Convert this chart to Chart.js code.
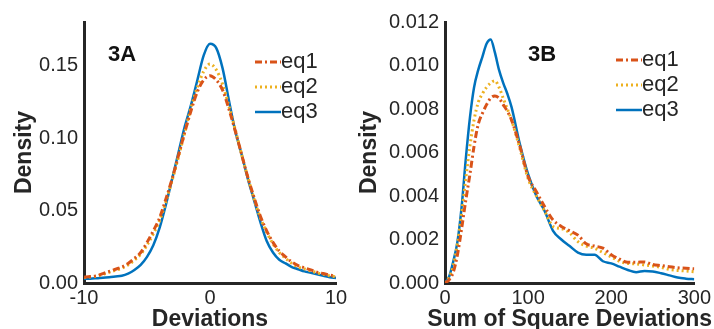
<!DOCTYPE html>
<html>
<head>
<meta charset="utf-8">
<script src="https://cdn.jsdelivr.net/npm/chart.js@4.4.1/dist/chart.umd.min.js"></script>
<style>
  body { margin: 0; background: #fff; }
  .panel { position: absolute; top: 0; width: 357px; height: 329px; }
  #panelA { left: 0; }
  #panelB { left: 357px; }
</style>
</head>
<body>
<div class="panel" id="panelA"><canvas id="chartA"></canvas></div>
<div class="panel" id="panelB"><canvas id="chartB"></canvas></div>
<script>
  // 3A: densidad de las desviaciones
  const devX = [-10, -9.5, -9, -8.5, -8, -7.5, -7, -6.5, -6, -5.5, -5, -4.5, -4, -3.5, -3, -2.5, -2, -1.5, -1, -0.5,
    0, 0.5, 1, 1.5, 2, 2.5, 3, 3.5, 4, 4.5, 5, 5.5, 6, 6.5, 7, 7.5, 8, 8.5, 9, 9.5, 10];
  const devEq1 = [0.004, 0.0045, 0.005, 0.0065, 0.008, 0.0095, 0.011, 0.0135, 0.017, 0.021, 0.028, 0.036, 0.045, 0.058, 0.072, 0.088, 0.104, 0.119, 0.132, 0.140,
    0.143, 0.140, 0.133, 0.120, 0.105, 0.089, 0.073, 0.059, 0.046, 0.036, 0.028, 0.022, 0.018, 0.0145, 0.012, 0.0105, 0.009, 0.0075, 0.0065, 0.0055, 0.0045];
  const devEq2 = [0.0038, 0.0042, 0.0047, 0.006, 0.0074, 0.0088, 0.0102, 0.0125, 0.0158, 0.0198, 0.026, 0.034, 0.043, 0.056, 0.071, 0.087, 0.104, 0.121, 0.135, 0.146,
    0.151, 0.147, 0.137, 0.122, 0.106, 0.089, 0.073, 0.058, 0.045, 0.035, 0.027, 0.021, 0.017, 0.0135, 0.011, 0.0097, 0.0084, 0.007, 0.006, 0.005, 0.0042];
  const devEq3 = [0.003, 0.003, 0.0033, 0.0037, 0.004, 0.0045, 0.005, 0.0065, 0.009, 0.0125, 0.018, 0.026, 0.038, 0.054, 0.072, 0.090, 0.108, 0.123, 0.140, 0.157,
    0.165, 0.162, 0.148, 0.126, 0.105, 0.089, 0.072, 0.057, 0.042, 0.029, 0.021, 0.016, 0.0135, 0.011, 0.0095, 0.008, 0.007, 0.006, 0.005, 0.004, 0.0035];
  const devXTicks = [-10, 0, 10];
  const devYTicks = [0, 0.05, 0.10, 0.15];

  // 3B: densidad de la suma de desviaciones cuadradas
  const ssdX = [0, 5, 10, 15, 20, 25, 30, 35, 40, 45, 50, 55, 60, 65, 70, 75, 80, 90, 100, 110, 120, 130, 140, 150,
    160, 170, 180, 190, 200, 210, 220, 230, 240, 250, 260, 270, 280, 290, 300];
  const ssdEq1 = [0, 0.00015, 0.0005, 0.0013, 0.0025, 0.0038, 0.0050, 0.0063, 0.0073, 0.0078, 0.0082, 0.0085, 0.0086, 0.0085, 0.0082, 0.0079, 0.0075, 0.0063, 0.0049, 0.0042, 0.0035, 0.0029, 0.0026, 0.0024,
    0.0022, 0.0018, 0.0017, 0.0016, 0.0013, 0.0011, 0.00095, 0.00095, 0.00097, 0.00085, 0.0008, 0.00075, 0.0007, 0.00068, 0.00065];
  const ssdEq2 = [0, 0.00025, 0.0008, 0.0018, 0.0032, 0.0048, 0.0063, 0.0075, 0.0083, 0.0087, 0.0090, 0.0092, 0.0093, 0.0090, 0.0085, 0.0080, 0.0075, 0.0062, 0.0048, 0.0040, 0.0033, 0.0026, 0.0025, 0.0023,
    0.0019, 0.0017, 0.0016, 0.0014, 0.0012, 0.0010, 0.0009, 0.00088, 0.00083, 0.00078, 0.00072, 0.00062, 0.00058, 0.00055, 0.00052];
  const ssdEq3 = [0, 0.0003, 0.0010, 0.0019, 0.0035, 0.0057, 0.0076, 0.0090, 0.0098, 0.0104, 0.0110, 0.0112, 0.0106, 0.0098, 0.0092, 0.0087, 0.0081, 0.0064, 0.0050, 0.0040, 0.0033, 0.0024, 0.0020, 0.0017,
    0.0014, 0.0013, 0.0013, 0.0010, 0.0009, 0.00075, 0.0006, 0.0005, 0.00055, 0.00053, 0.00045, 0.00035, 0.00025, 0.0002, 0.00017];
  const ssdXTicks = [0, 100, 200, 300];
  const ssdYTicks = [0, 0.002, 0.004, 0.006, 0.008, 0.010, 0.012];

  const seriesNames = ['eq1', 'eq2', 'eq3'];
  const seriesColors = ['#D95319', '#EDB120', '#0072BD'];
  const seriesDash = [[7, 3, 2, 3], [2, 3], []];

  const fontFamily = "'Liberation Sans', Arial, Helvetica, sans-serif";
  const ink = '#262626';

  function makeDatasets(xs, ys) {
    return ys.map((serie, i) => ({
      label: seriesNames[i],
      data: xs.map((x, j) => ({ x: x, y: serie[j] })),
      borderColor: seriesColors[i],
      borderDash: seriesDash[i],
      borderWidth: i === 2 ? 2.5 : 3,
      pointRadius: 0,
      fill: false,
      cubicInterpolationMode: 'monotone'
    }));
  }

  // leyenda, etiqueta del panel y titulo del eje x (el titulo de Chart.js se comprime)
  function panelPlugin(tag, tagX, legX, legY, xTitle) {
    return {
      id: 'panel' + tag,
      afterDraw(chart) {
        const ctx = chart.ctx;
        const area = chart.chartArea;
        ctx.save();
        ctx.fillStyle = '#111';
        ctx.font = 'bold 22px ' + fontFamily;
        ctx.textAlign = 'left';
        ctx.textBaseline = 'middle';
        ctx.fillText(tag, tagX, 55);
        ctx.font = '22px ' + fontFamily;
        seriesNames.forEach((name, i) => {
          const y = legY + i * 25;
          ctx.strokeStyle = seriesColors[i];
          ctx.lineWidth = i === 2 ? 2.5 : 3;
          ctx.setLineDash(seriesDash[i]);
          ctx.beginPath();
          ctx.moveTo(legX, y);
          ctx.lineTo(legX + 26, y);
          ctx.stroke();
          ctx.setLineDash([]);
          ctx.fillStyle = ink;
          ctx.fillText(name, legX + 26, y);
        });
        ctx.fillStyle = ink;
        ctx.font = 'bold 23px ' + fontFamily;
        ctx.textAlign = 'center';
        ctx.fillText(xTitle, (area.left + area.right) / 2, 320);
        ctx.restore();
      }
    };
  }

  function makeOptions(xTicks, yTicks, yMax, decimals, yAxisWidth, yTitlePad, rightPad) {
    return {
      responsive: true,
      maintainAspectRatio: false,
      animation: false,
      layout: { padding: { top: 22, right: rightPad, left: 0, bottom: 0 } },
      plugins: { legend: { display: false }, tooltip: { enabled: false } },
      scales: {
        x: {
          type: 'linear',
          min: xTicks[0],
          max: xTicks[xTicks.length - 1],
          grid: { display: false, drawTicks: false },
          border: { display: true, color: ink, width: 3 },
          afterBuildTicks: (scale) => { scale.ticks = xTicks.map(v => ({ value: v })); },
          afterFit: (scale) => { scale.height = 46; },
          ticks: {
            color: ink,
            font: { family: fontFamily, size: 20 },
            padding: 3,
            maxRotation: 0,
            autoSkip: false
          }
        },
        y: {
          min: 0,
          max: yMax,
          grid: { display: false, drawTicks: false },
          border: { display: true, color: ink, width: 3 },
          afterBuildTicks: (scale) => { scale.ticks = yTicks.map(v => ({ value: v })); },
          afterFit: (scale) => { scale.width = yAxisWidth; },
          ticks: {
            color: ink,
            font: { family: fontFamily, size: 20 },
            padding: 6,
            callback: (v) => Number(v).toFixed(decimals)
          },
          title: {
            display: true,
            text: 'Density',
            color: ink,
            font: { family: fontFamily, size: 23, weight: 'bold', lineHeight: 1 },
            padding: { top: yTitlePad, bottom: 0 }
          }
        }
      }
    };
  }

  const chartA = new Chart(document.getElementById('chartA'), {
    type: 'line',
    data: { datasets: makeDatasets(devX, [devEq1, devEq2, devEq3]) },
    options: makeOptions(devXTicks, devYTicks, 0.18, 2, 84, 13, 21),
    plugins: [panelPlugin('3A', 108, 255, 62, 'Deviations')]
  });

  const chartB = new Chart(document.getElementById('chartB'), {
    type: 'line',
    data: { datasets: makeDatasets(ssdX, [ssdEq1, ssdEq2, ssdEq3]) },
    options: makeOptions(ssdXTicks, ssdYTicks, 0.012, 3, 88, 1, 18),
    plugins: [panelPlugin('3B', 171, 259, 60, 'Sum of Square Deviations')]
  });
</script>
</body>
</html>
